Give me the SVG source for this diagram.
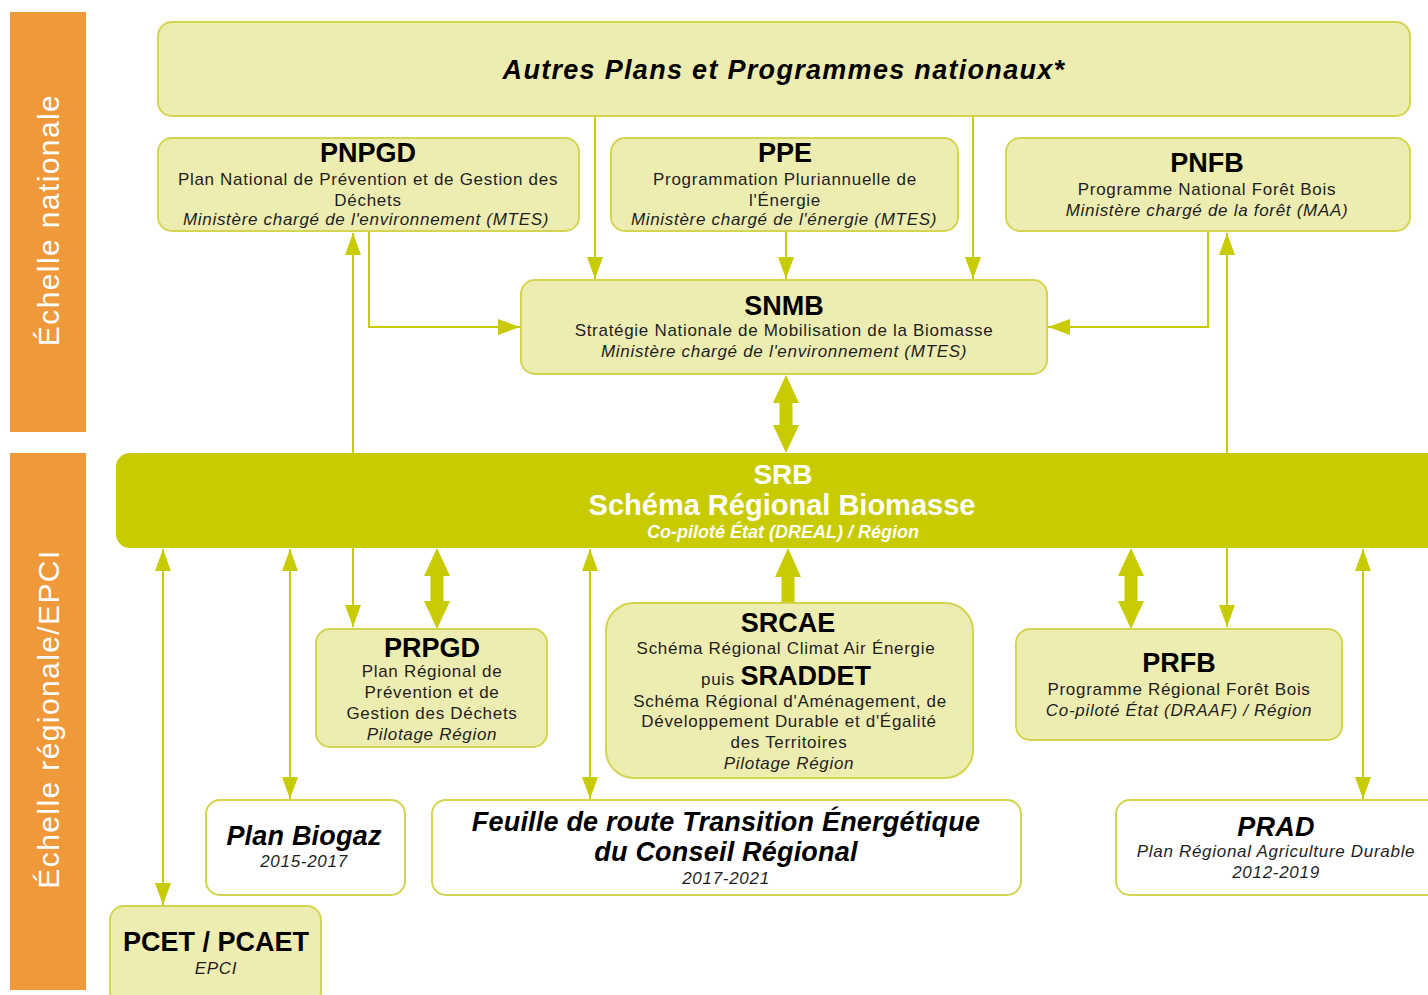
<svg xmlns="http://www.w3.org/2000/svg" width="1428" height="995" viewBox="0 0 1428 995">
<defs>
<style>
text{font-family:"Liberation Sans",Arial,sans-serif;text-anchor:middle;fill:#1e1e1e}
.box{fill:#EEEDB1;stroke:#D3D44F;stroke-width:2}
.wbox{fill:#ffffff;stroke:#D3D44F;stroke-width:2}
.side{fill:#F0993A}
.side-t{fill:#ffffff;font-size:30px;letter-spacing:1.4px}
.t{font-size:27px;font-weight:bold;fill:#000}
.bi{font-size:27px;font-weight:bold;font-style:italic;fill:#000;letter-spacing:0.2px}
.s{font-size:17px;letter-spacing:0.7px}
.i{font-size:17px;font-style:italic;letter-spacing:0.7px}
.ln{stroke:#C8CB00;stroke-width:2;fill:none}
.thick{fill:#C8CB00}
.w{fill:#ffffff;font-weight:bold}
</style>
<marker id="ah" markerUnits="userSpaceOnUse" markerWidth="22" markerHeight="16" refX="22" refY="8" orient="auto-start-reverse">
<path d="M0,0 L22,8 L0,16 z" fill="#C8CB00"/>
</marker>
</defs>
<rect width="1428" height="995" fill="#ffffff"/>

<g id="side-national">
<rect class="side" x="10" y="12" width="76" height="420"/>
<text class="side-t" transform="translate(59,220) rotate(-90)">Échelle nationale</text>
</g>
<g id="side-regional">
<rect class="side" x="10" y="453" width="76" height="537"/>
<text class="side-t" transform="translate(59,719) rotate(-90)">Échelle régionale/EPCI</text>
</g>

<g id="connectors">
<line class="ln" x1="595" y1="116" x2="595" y2="279" marker-end="url(#ah)"/>
<line class="ln" x1="973" y1="116" x2="973" y2="279" marker-end="url(#ah)"/>
<line class="ln" x1="786" y1="232" x2="786" y2="279" marker-end="url(#ah)"/>
<polyline class="ln" points="369,232 369,327 520,327" marker-end="url(#ah)"/>
<polyline class="ln" points="1208,232 1208,327 1048,327" marker-end="url(#ah)"/>
<line class="ln" x1="353" y1="233" x2="353" y2="627" marker-start="url(#ah)" marker-end="url(#ah)"/>
<line class="ln" x1="1227" y1="233" x2="1227" y2="627" marker-start="url(#ah)" marker-end="url(#ah)"/>
<line class="ln" x1="163" y1="549" x2="163" y2="905" marker-start="url(#ah)" marker-end="url(#ah)"/>
<line class="ln" x1="290" y1="549" x2="290" y2="799" marker-start="url(#ah)" marker-end="url(#ah)"/>
<line class="ln" x1="590" y1="549" x2="590" y2="799" marker-start="url(#ah)" marker-end="url(#ah)"/>
<line class="ln" x1="1363" y1="549" x2="1363" y2="799" marker-start="url(#ah)" marker-end="url(#ah)"/>
<polygon class="thick" points="786,375 799,403 792.5,403 792.5,425 799,425 786,453 773,425 779.5,425 779.5,403 773,403"/>
<polygon class="thick" points="437,548 450,576 443.5,576 443.5,601 450,601 437,629 424,601 430.5,601 430.5,576 424,576"/>
<polygon class="thick" points="1131,548 1144,576 1137.5,576 1137.5,601 1144,601 1131,629 1118,601 1124.5,601 1124.5,576 1118,576"/>
<polygon class="thick" points="788,548 801,577 794.5,577 794.5,604 781.5,604 781.5,577 775,577"/>
</g>

<g id="autres">
<rect class="box" x="158" y="22" width="1252" height="94" rx="14"/>
<text class="bi" x="784" y="79" style="font-size:27px;letter-spacing:1.3px">Autres Plans et Programmes nationaux*</text>
</g>

<g id="pnpgd">
<rect class="box" x="158" y="138" width="421" height="93" rx="14"/>
<text class="t" x="368" y="162">PNPGD</text>
<text class="s" x="368" y="185">Plan National de Prévention et de Gestion des</text>
<text class="s" x="368" y="206">Déchets</text>
<text class="i" x="366" y="225">Ministère chargé de l'environnement (MTES)</text>
</g>

<g id="ppe">
<rect class="box" x="611" y="138" width="347" height="93" rx="14"/>
<text class="t" x="785" y="162">PPE</text>
<text class="s" x="785" y="185">Programmation Pluriannuelle de</text>
<text class="s" x="785" y="206">l'Énergie</text>
<text class="i" x="784" y="225">Ministère chargé de l'énergie (MTES)</text>
</g>

<g id="pnfb">
<rect class="box" x="1006" y="138" width="404" height="93" rx="14"/>
<text class="t" x="1207" y="172">PNFB</text>
<text class="s" x="1207" y="195">Programme National Forêt Bois</text>
<text class="i" x="1207" y="216">Ministère chargé de la forêt (MAA)</text>
</g>

<g id="snmb">
<rect class="box" x="521" y="280" width="526" height="94" rx="14"/>
<text class="t" x="784" y="315">SNMB</text>
<text class="s" x="784" y="336">Stratégie Nationale de Mobilisation de la Biomasse</text>
<text class="i" x="784" y="357">Ministère chargé de l'environnement (MTES)</text>
</g>

<g id="srb">
<rect x="116" y="453" width="1340" height="95" rx="14" fill="#C8CB00"/>
<text class="w" x="783" y="484" style="font-size:28px">SRB</text>
<text class="w" x="782" y="515" style="font-size:29px">Schéma Régional Biomasse</text>
<text class="w" x="783" y="538" style="font-size:18px;font-style:italic;font-weight:bold">Co-piloté État (DREAL) / Région</text>
</g>

<g id="prpgd">
<rect class="box" x="316" y="629" width="231" height="118" rx="14"/>
<text class="t" x="432" y="657">PRPGD</text>
<text class="s" x="432" y="677">Plan Régional de</text>
<text class="s" x="432" y="698">Prévention et de</text>
<text class="s" x="432" y="719">Gestion des Déchets</text>
<text class="i" x="432" y="740">Pilotage Région</text>
</g>

<g id="srcae">
<rect class="box" x="606" y="603" width="367" height="175" rx="28"/>
<text class="t" x="788" y="632">SRCAE</text>
<text class="s" x="786" y="654">Schéma Régional Climat Air Énergie</text>
<text x="786" y="685"><tspan class="s">puis </tspan><tspan class="t">SRADDET</tspan></text>
<text class="s" x="790" y="707">Schéma Régional d'Aménagement, de</text>
<text class="s" x="789" y="727">Développement Durable et d'Égalité</text>
<text class="s" x="789" y="748">des Territoires</text>
<text class="i" x="789" y="769">Pilotage Région</text>
</g>

<g id="prfb">
<rect class="box" x="1016" y="629" width="326" height="111" rx="14"/>
<text class="t" x="1179" y="672">PRFB</text>
<text class="s" x="1179" y="695">Programme Régional Forêt Bois</text>
<text class="i" x="1179" y="716">Co-piloté État (DRAAF) / Région</text>
</g>

<g id="plan-biogaz">
<rect class="wbox" x="206" y="800" width="199" height="95" rx="14"/>
<text class="bi" x="304" y="845">Plan Biogaz</text>
<text class="i" x="304" y="867">2015-2017</text>
</g>

<g id="feuille">
<rect class="wbox" x="432" y="800" width="589" height="95" rx="14"/>
<text class="bi" x="726" y="831">Feuille de route Transition Énergétique</text>
<text class="bi" x="726" y="861">du Conseil Régional</text>
<text class="i" x="726" y="884">2017-2021</text>
</g>

<g id="prad">
<rect class="wbox" x="1116" y="800" width="330" height="95" rx="14"/>
<text class="bi" x="1276" y="836">PRAD</text>
<text class="i" x="1276" y="857">Plan Régional Agriculture Durable</text>
<text class="i" x="1276" y="878">2012-2019</text>
</g>

<g id="pcet">
<rect class="box" x="110" y="906" width="211" height="100" rx="14"/>
<text class="t" x="216" y="951">PCET / PCAET</text>
<text class="i" x="216" y="974">EPCI</text>
</g>
</svg>
